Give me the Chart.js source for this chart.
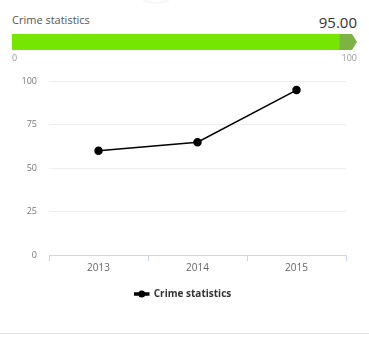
<!DOCTYPE html>
<html><head><meta charset="utf-8">
<script src="https://cdn.jsdelivr.net/npm/chart.js@4/dist/chart.umd.min.js"></script>
<style>
html,body{margin:0;padding:0;background:#fff;width:369px;height:338px;overflow:hidden;font-family:"Open Sans",sans-serif;}
#title{position:absolute;left:12px;top:12px;font-size:11px;color:#555;}
#value{position:absolute;right:12px;top:12px;font-size:15px;color:#333;}
#shadow{position:absolute;left:140px;top:-14px;width:32px;height:16px;border-radius:50%;box-shadow:0 1px 3px rgba(0,0,0,0.06);}
#pwrap{position:absolute;left:0;top:34px;width:369px;height:36px;}
#wrap{position:absolute;left:0;top:64px;width:369px;height:245px;}
#sep{position:absolute;left:0;top:333px;width:369px;height:1px;background:#e6e6e6;}
</style></head>
<body>
<div id="shadow"></div>
<div id="title"></div>
<div id="value"></div>
<div id="pwrap"><canvas id="pc"></canvas></div>
<div id="wrap"><canvas id="c"></canvas></div>
<div id="sep"></div>
<script>
const seriesName = "Crime statistics";
const years = ["2013", "2014", "2015"];
const crimeValues = [60, 65, 95];
const currentValue = 95;
const gaugeMin = 0;
const gaugeMax = 100;
const yTicks = [0, 25, 50, 75, 100];

document.getElementById('title').textContent = seriesName;
document.getElementById('value').textContent = currentValue.toFixed(2);

// progress bar
const arrowPlugin = {
  id: 'arrow',
  afterDatasetsDraw(chart) {
    const x = chart.scales.x, a = chart.chartArea, ctx = chart.ctx;
    const x0 = x.getPixelForValue(currentValue);
    const xe = x.getPixelForValue(gaugeMax);
    const xm = xe - 5;
    ctx.save();
    ctx.fillStyle = '#7cb342';
    ctx.beginPath();
    ctx.moveTo(x0, a.top); ctx.lineTo(xm, a.top); ctx.lineTo(xe, (a.top + a.bottom) / 2);
    ctx.lineTo(xm, a.bottom); ctx.lineTo(x0, a.bottom); ctx.closePath(); ctx.fill();
    ctx.restore();
  }
};
new Chart(document.getElementById('pc'), {
  type: 'bar',
  data: { labels: [''], datasets: [{ data: [currentValue], backgroundColor: '#74e600', barPercentage: 1, categoryPercentage: 1 }] },
  options: {
    indexAxis: 'y', responsive: true, maintainAspectRatio: false, animation: false,
    layout: { padding: { left: 12, right: 12, top: 0, bottom: 0 } },
    plugins: { legend: { display: false }, tooltip: { enabled: false } },
    scales: {
      y: { display: false },
      x: { min: gaugeMin, max: gaugeMax, grid: { display: false, drawTicks: false, tickLength: 0 }, border: { display: false },
           afterFit(s) { s.height = 20; },
           ticks: { stepSize: gaugeMax - gaugeMin, align: 'inner', padding: 3, color: '#999', font: { family: 'Open Sans', size: 9 } } }
    }
  },
  plugins: [arrowPlugin]
});

// main line chart
const legendMarker = {
  id: 'legendMarker',
  afterDraw(chart) {
    const lg = chart.legend; if (!lg || !lg.legendHitBoxes) return;
    const ctx = chart.ctx;
    lg.legendHitBoxes.forEach(h => {
      ctx.save();
      ctx.fillStyle = '#000';
      ctx.beginPath();
      ctx.arc(h.left + 7, h.top + h.height / 2, 3.5, 0, Math.PI * 2);
      ctx.fill();
      ctx.restore();
    });
  }
};
new Chart(document.getElementById('c'), {
  type: 'line',
  data: { labels: years, datasets: [{ label: seriesName, data: crimeValues, borderColor: '#000', backgroundColor: '#000',
    borderWidth: 1.5, pointRadius: 3.5, pointHoverRadius: 3.5, pointBackgroundColor: '#000', tension: 0 }] },
  options: {
    responsive: true, maintainAspectRatio: false, animation: false,
    layout: { padding: { left: 20, right: 23, top: 11, bottom: 0 } },
    plugins: {
      tooltip: { enabled: false },
      legend: { position: 'bottom', labels: { boxWidth: 14, boxHeight: 2, padding: 14, color: '#333',
        font: { family: 'Open Sans', size: 10, weight: 'bold' } } }
    },
    scales: {
      x: { offset: true, grid: { offset: true, drawOnChartArea: false, drawTicks: true, tickLength: 6, color: '#ccd6eb' },
           border: { color: '#ccd6eb' },
           ticks: { color: '#666', padding: 1, font: { family: 'Open Sans', size: 10 } } },
      y: { min: 0, max: 100, afterBuildTicks(s) { s.ticks = yTicks.map(v => ({ value: v })); },
           afterFit(s) { s.width = 29; },
           grid: { color: '#eeeeee', drawTicks: false }, border: { display: false },
           ticks: { color: '#777', padding: 12, font: { family: 'Open Sans', size: 9 } } }
    }
  },
  plugins: [legendMarker]
});
</script>
</body></html>
